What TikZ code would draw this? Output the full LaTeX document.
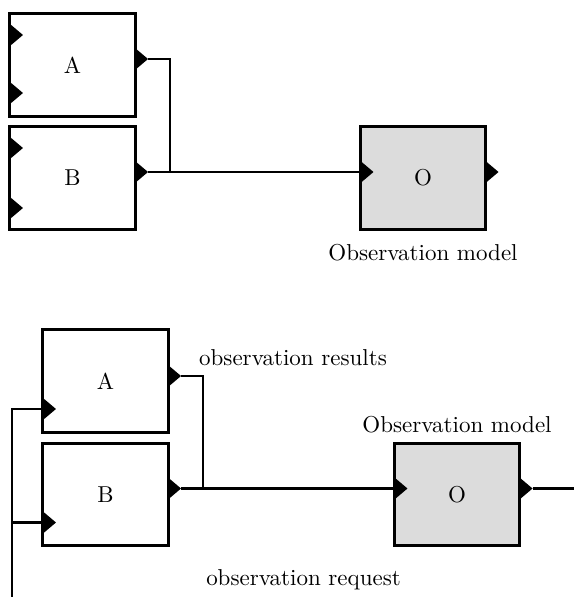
\documentclass[tikz,border=0pt]{standalone}
\usepackage{tikz}
\usetikzlibrary{positioning, calc}

\definecolor{modelgray}{HTML}{DCDCDC}

\tikzset{
  block/.style={draw, line width=1.3pt, minimum width=54.4pt, minimum height=44.4pt,
    inner sep=0pt, outer sep=0pt},
  model/.style={block, fill=modelgray},
  wire/.style={line width=1pt}
}

% port triangle: base on the box edge, tip pointing right
\newcommand{\port}[2]{\fill #2 coordinate (#1-b) ++(0,-11) -- ++(13,11) coordinate (#1) -- ++(-13,11) -- cycle;}

\begin{document}
\begin{tikzpicture}[x=0.435pt,y=-0.435pt]
\useasboundingbox (0,0) rectangle (574,597);

% upper diagram
\node[block] (A1) at (72.5,65) {A};
\node[block] (B1) at (72.5,178) {B};
\node[model] (O1) at (423,178) {O};
\node[below=3pt of O1] (L1) {Observation model};

\port{A1i1}{($(A1.west)+(0,-30)$)}
\port{A1i2}{($(A1.west)+(0,28)$)}
\port{A1o}{($(A1.east)+(0,-6)$)}
\port{B1i1}{($(B1.west)+(0,-30)$)}
\port{B1i2}{($(B1.west)+(0,30)$)}
\port{B1o}{($(B1.east)+(0,-6)$)}
\port{O1i}{($(O1.west)+(0,-6)$)}
\port{O1o}{($(O1.east)+(0,-6)$)}

\coordinate (J1) at (170,172);
\draw[wire] (A1o) -| (J1 |- B1o);
\draw[wire] (B1o) -- (O1i-b);

% lower diagram
\node[block] (A2) at (105.5,381) {A};
\node[block] (B2) at (105.5,494.5) {B};
\node[model] (O2) at (457,494.5) {O};
\node[above=1pt of O2] (L2) {Observation model};

\port{A2i}{($(A2.west)+(0,28)$)}
\port{A2o}{($(A2.east)+(0,-5)$)}
\port{B2i}{($(B2.west)+(0,28)$)}
\port{B2o}{($(B2.east)+(0,-6)$)}
\port{O2i}{($(O2.west)+(0,-6)$)}
\port{O2o}{($(O2.east)+(0,-6)$)}

\coordinate (J2) at (203,488);
\coordinate (fb) at (12,597);
\coordinate (out2) at (574,488);
\draw[wire] (A2o) -| (J2 |- B2o);
\draw[wire] (B2o) -- (O2i-b);
\draw[wire] (O2o) -- (O2o -| out2);
\draw[wire] (fb) |- (A2i-b);
\draw[wire] (fb |- B2i-b) -- (B2i-b);

\node[anchor=base] (res) at (293,365) {observation results};
\node[anchor=base] (req) at (303.5,585) {observation request};
\end{tikzpicture}
\end{document}
